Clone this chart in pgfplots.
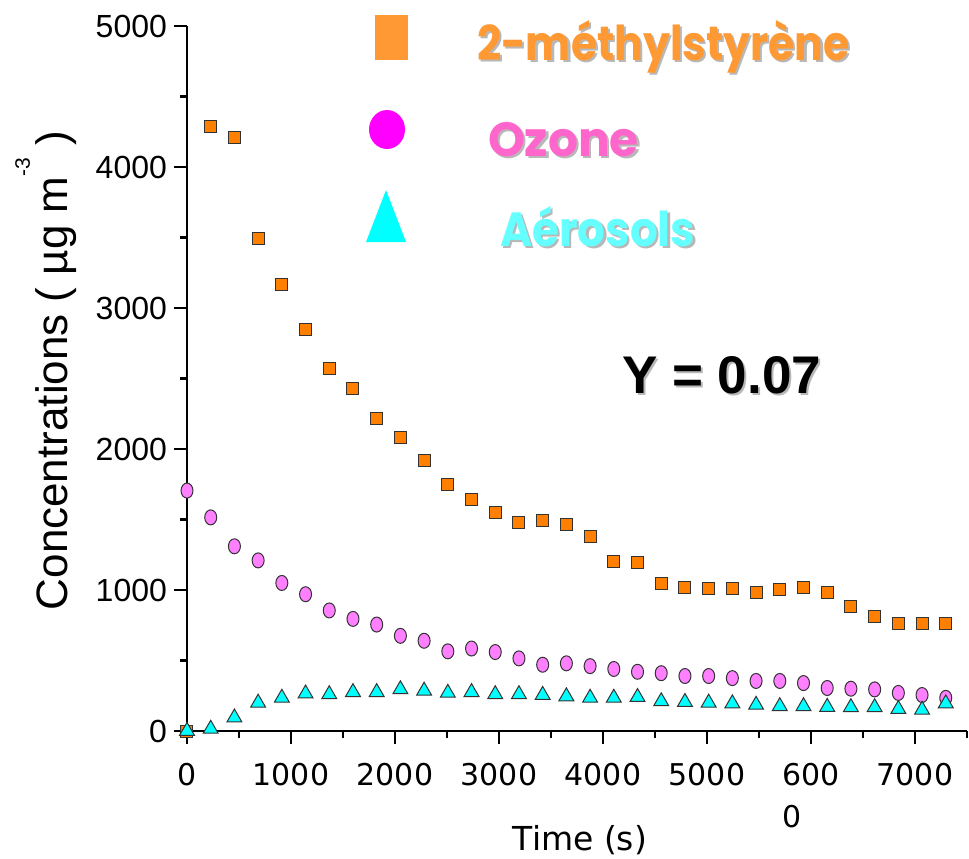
\documentclass[border=0pt]{standalone}
\usepackage{fontspec}
\setmainfont{Liberation Sans}
\newfontfamily\dejavu{DejaVu Sans}
\newfontfamily\legfont{Poppins}
\usepackage{pgfplots}
\usepackage{pgfplotstable}
\pgfplotsset{compat=1.18}
\definecolor{legorange}{HTML}{FF9933}
\definecolor{legmag}{HTML}{FF00FF}
\definecolor{legcyan}{HTML}{00FFFF}
\definecolor{txtorange}{HTML}{FF9933}
\definecolor{txtpink}{HTML}{FF66CC}
\definecolor{txtcyan}{HTML}{66FFFF}
\definecolor{sqfill}{HTML}{FF7F00}
\definecolor{cifill}{HTML}{FF80FF}
\definecolor{trfill}{HTML}{00FFFF}
\newcommand{\shtext}[3]{\makebox[0pt][l]{\kern#3\raisebox{-#3}{\color{black!28}#2}}{\color{#1}#2}}

\pgfplotstableread{
t sq oz ae
0 0 1705 0
228 4290 1515 15
456 4210 1310 95
684 3490 1210 200
912 3170 1050 235
1140 2845 970 265
1368 2570 855 260
1596 2430 795 275
1824 2215 755 275
2052 2080 675 295
2280 1915 640 285
2508 1745 565 270
2736 1640 585 275
2964 1550 560 260
3192 1480 515 260
3420 1490 470 255
3648 1465 480 245
3876 1380 460 235
4104 1205 440 235
4332 1195 420 240
4560 1045 410 210
4788 1020 390 205
5016 1010 390 200
5244 1010 375 195
5472 980 355 185
5700 1005 355 175
5928 1020 340 175
6156 980 305 170
6384 880 300 168
6612 815 295 168
6840 760 270 155
7068 765 255 150
7296 765 235 195
}\datatable

\begin{document}
\begin{tikzpicture}
\useasboundingbox (-93.5pt,-63.5pt) rectangle (391pt,365.5pt);
\begin{axis}[
  at={(0pt,0pt)}, anchor=south west,
  scale only axis, width=390pt, height=352.5pt,
  xmin=0, xmax=7500, ymin=0, ymax=5000,
  clip=false,
  axis x line*=bottom, axis y line*=left,
  axis line style={line width=1.3pt, -},
  tick align=outside,
  major tick length=6.5pt, minor tick length=3.5pt,
  every tick/.style={black, line width=1.1pt},
  xtick={0,1000,2000,3000,4000,5000,6000,7000},
  xticklabels={0,1000,2000,3000,4000,5000,{\begin{tabular}[t]{@{}l@{}}600\\[3pt]0\end{tabular}},7000},
  minor xtick={500,1500,2500,3500,4500,5500,6500,7500},
  ytick={0,1000,2000,3000,4000,5000},
  yticklabels={0,1000,2000,3000,4000,5000},
  minor ytick={500,1500,2500,3500,4500},
  xticklabel style={font=\dejavu\fontsize{15}{18}\selectfont, anchor=base, yshift=-20.5pt},
  yticklabel style={font=\fontsize{16}{19}\selectfont},
  xlabel={Time (s)},
  xlabel style={font=\dejavu\fontsize{16.5}{20}\selectfont, at={(axis description cs:0.5038,-0.1688)}, anchor=base},
  ylabel={Concentrations ( µg m\raisebox{19pt}{\fontsize{10.5}{12}\selectfont -3} )},
  ylabel style={font=\fontsize{22}{26}\selectfont, at={(axis description cs:-0.1526,0.5113)}, anchor=base},
  legend style={at={(axis description cs:0.2295,1.0156)}, anchor=north west, draw=none, fill=none,
    inner sep=0pt, outer sep=0pt, row sep=0pt, column sep=0pt,
    font=\legfont\bfseries\fontsize{24}{28}\selectfont,
    nodes={inner sep=0pt, anchor=base west}},
  legend cell align=left,
]
\addplot[only marks, mark=square*, mark size=3pt,
  mark options={fill=sqfill, draw=black!80, line width=0.5pt},
  legend image code/.code={\path[draw=none,fill=none] (0pt,-25pt) rectangle (55.5pt,22.5pt); \fill[legorange, draw=none] (4.5pt,0pt) rectangle (21pt,22.5pt);}]
  table[x=t, y=sq] {\datatable};
\addlegendentry{\scalebox{0.886}[1]{\shtext{txtorange}{2-méthylstyrène}{1.3pt}}}
\addplot[only marks, mark=*, mark size=3.75pt,
  mark options={fill=cifill, draw=black!80, line width=0.5pt, xscale=0.8},
  legend image code/.code={\path[draw=none,fill=none] (0pt,-17pt) rectangle (55.5pt,22.5pt); \fill[legmag, draw=none] (10.5pt,13.25pt) ellipse [x radius=9pt, y radius=9.75pt];}]
  table[x=t, y=oz] {\datatable};
\addlegendentry{\hspace{5.5pt}\scalebox{0.98}[1]{\shtext{txtpink}{Ozone}{1.3pt}}}
\addplot[only marks, mark=triangle*, mark size=4.3pt,
  mark options={fill=trfill, draw=black!80, line width=0.5pt},
  legend image code/.code={\path[draw=none,fill=none] (0pt,-10pt) rectangle (55.5pt,28pt); \fill[legcyan, draw=none] (0pt,2pt) -- (20pt,2pt) -- (10pt,28pt) -- cycle;}]
  table[x=t, y=ae] {\datatable};
\addlegendentry{\hspace{11.5pt}\scalebox{0.91}[1]{\shtext{txtcyan}{Aérosols}{1.3pt}}}
\node[anchor=base west, inner sep=0pt, font=\bfseries\fontsize{26.5}{30}\selectfont] at (axis description cs:0.5573,0.4794) {\shtext{black}{Y = 0.07}{1pt}};
\end{axis}
\end{tikzpicture}
\end{document}
